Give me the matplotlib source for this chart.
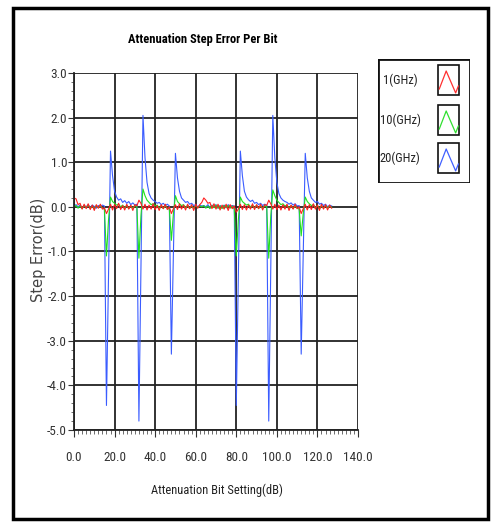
import matplotlib
matplotlib.use("Agg")
import matplotlib.pyplot as plt
from matplotlib.ticker import MultipleLocator, FormatStrFormatter
from matplotlib.patches import Rectangle

NARROW = ['Roboto Condensed', 'Liberation Sans Narrow', 'Liberation Sans', 'DejaVu Sans']

# attenuation setting (dB), one point per dB
atten = list(range(128))

err_20ghz = [0.02, 0.05, 0.0, 0.04, -0.03, 0.03, 0.0, 0.05, -0.02, 0.04, 0.01, -0.03, 0.03, 0.0, 0.04, 0.02,
             -4.45, -1.6, 1.25, 0.7, 0.35, 0.22, 0.15, 0.18, 0.1, 0.14, 0.08, 0.12, 0.05, 0.09, 0.04, 0.06,
             -4.8, -1.4, 2.05, 1.1, 0.55, 0.3, 0.2, 0.15, 0.12, 0.08, 0.1, 0.05, 0.08, 0.03, 0.06, 0.02,
             -3.3, -1.0, 1.2, 0.65, 0.35, 0.2, 0.15, 0.1, 0.12, 0.06, 0.08, 0.03, 0.05, 0.0, 0.04, 0.02,
             0.03, 0.0, 0.05, -0.02, 0.04, 0.01, 0.05, -0.03, 0.03, 0.0, 0.04, -0.02, 0.05, 0.01, 0.03, 0.02,
             -4.45, -1.6, 1.25, 0.7, 0.35, 0.22, 0.16, 0.12, 0.15, 0.08, 0.1, 0.05, 0.08, 0.03, 0.06, 0.04,
             -4.8, -1.4, 2.05, 1.1, 0.55, 0.3, 0.2, 0.15, 0.12, 0.1, 0.06, 0.09, 0.04, 0.07, 0.02, 0.03,
             -3.3, -1.0, 1.2, 0.65, 0.35, 0.2, 0.15, 0.1, 0.12, 0.06, 0.08, 0.03, 0.06, 0.0, 0.04, 0.02]

err_10ghz = [0.0, 0.03, -0.03, 0.02, -0.04, 0.03, -0.02, 0.04, -0.03, 0.02, -0.04, 0.03, -0.02, 0.03, -0.03, -0.05,
             -1.1, -0.3, 0.22, 0.12, 0.08, 0.04, 0.06, 0.0, 0.04, -0.03, 0.03, -0.04, 0.02, -0.03, 0.03, 0.0,
             -1.15, -0.2, 0.4, 0.25, 0.15, 0.1, 0.05, 0.07, 0.02, 0.04, -0.03, 0.03, -0.04, 0.02, -0.03, -0.05,
             -0.75, -0.15, 0.25, 0.12, 0.07, 0.03, 0.05, -0.02, 0.03, -0.04, 0.02, -0.03, 0.03, -0.02, 0.02, 0.0,
             0.03, -0.03, 0.02, -0.04, 0.03, -0.02, 0.04, -0.03, 0.02, -0.04, 0.03, -0.02, 0.03, -0.03, 0.02, -0.05,
             -1.1, -0.3, 0.22, 0.12, 0.08, 0.04, 0.06, 0.0, 0.03, -0.03, 0.04, -0.04, 0.02, -0.03, 0.03, 0.0,
             -1.15, -0.2, 0.38, 0.25, 0.15, 0.1, 0.05, 0.07, 0.02, 0.04, -0.03, 0.03, -0.04, 0.02, -0.03, -0.05,
             -0.65, -0.15, 0.22, 0.12, 0.07, 0.03, 0.05, -0.02, 0.03, -0.04, 0.02, -0.03, 0.03, -0.02, 0.02, -0.01]

err_1ghz = [0.2, 0.18, 0.05, 0.08, -0.05, 0.06, -0.04, 0.07, -0.06, 0.04, -0.08, 0.05, -0.03, 0.06, -0.05, -0.02,
            -0.15, -0.05, 0.06, -0.07, 0.05, -0.04, 0.08, -0.06, 0.03, -0.07, 0.06, -0.05, 0.04, -0.08, 0.05, 0.02,
            0.15, 0.08, -0.05, 0.06, -0.07, 0.04, -0.05, 0.07, -0.06, 0.03, -0.08, 0.05, -0.04, 0.06, -0.06, 0.0,
            -0.15, -0.04, 0.05, -0.06, 0.07, -0.05, 0.04, -0.07, 0.06, -0.04, 0.05, -0.08, 0.06, -0.03, 0.05, 0.1,
            0.2, 0.15, 0.08, 0.1, -0.04, 0.07, -0.05, 0.06, -0.07, 0.04, -0.05, 0.06, -0.08, 0.05, -0.04, 0.02,
            -0.12, -0.05, 0.06, -0.06, 0.05, -0.07, 0.04, -0.05, 0.07, -0.06, 0.05, -0.04, 0.06, -0.07, 0.05, 0.03,
            0.15, 0.07, -0.05, 0.06, -0.06, 0.04, -0.07, 0.05, -0.05, 0.06, -0.08, 0.04, -0.05, 0.06, -0.04, 0.0,
            -0.15, -0.04, 0.06, -0.07, 0.05, -0.06, 0.07, -0.05, 0.04, -0.08, 0.06, -0.05, 0.05, -0.07, 0.04, -0.03]

legend_labels = ['1(GHz)', '10(GHz)', '20(GHz)']
legend_colors = ['#ff3030', '#30e030', '#4060ff']

W, H = 491, 525
fig = plt.figure(figsize=(W / 100, H / 100), dpi=100)

# outer frame
fig.patches.append(Rectangle((13 / W, 1 - 519 / H), 475 / W, 511 / H, transform=fig.transFigure,
                             fill=False, edgecolor='black', linewidth=2.5))

ax = fig.add_axes([74 / W, 1 - 430 / H, 284 / W, 357 / H])
ax.plot(atten, err_20ghz, color='#3a5cff', lw=0.8)
ax.plot(atten, err_10ghz, color='#20e020', lw=0.8)
ax.plot(atten, err_1ghz, color='#ff2020', lw=0.8)

ax.set_xlim(0, 140)
ax.set_ylim(-5, 3)
ax.xaxis.set_major_locator(MultipleLocator(20))
ax.xaxis.set_minor_locator(MultipleLocator(2))
ax.yaxis.set_major_locator(MultipleLocator(1))
ax.yaxis.set_minor_locator(MultipleLocator(0.2))
ax.xaxis.set_major_formatter(FormatStrFormatter('%.1f'))
ax.yaxis.set_major_formatter(FormatStrFormatter('%.1f'))
ax.grid(True, which='major', color='#222222', lw=1.3)
ax.set_axisbelow(True)
for s in ['top', 'right']:
    ax.spines[s].set_visible(False)
for s in ['left', 'bottom']:
    ax.spines[s].set_color('#222222')
    ax.spines[s].set_linewidth(1.3)
ax.tick_params(axis='x', which='major', length=5, pad=10, labelsize=9.5, colors='#333333')
ax.tick_params(axis='x', which='minor', length=3, color='#555555')
ax.tick_params(axis='y', which='major', length=4, pad=1, labelsize=9.5, colors='#333333')
ax.tick_params(axis='y', which='minor', length=2, color='#555555')
for lab in ax.get_xticklabels() + ax.get_yticklabels():
    lab.set_family(NARROW)

fig.text(203 / W, 1 - 39 / H, 'Attenuation Step Error Per Bit', ha='center', va='center',
         fontsize=9, fontweight='bold', family=NARROW)
fig.text(217 / W, 1 - 490 / H, 'Attenuation Bit Setting(dB)', ha='center', va='center',
         fontsize=9, family=NARROW, color='#222222')
fig.text(39 / W, 1 - 250 / H, 'Step Error(dB)', ha='center', va='center', rotation=90,
         fontsize=10.5, color='#444444')

# legend box
lax = fig.add_axes([378 / W, 1 - 183 / H, 92 / W, 124 / H])
lax.set_xlim(0, 92)
lax.set_ylim(124, 0)
lax.axis('off')
lax.add_patch(Rectangle((0, 0), 92, 124, fill=False, edgecolor='#111111', lw=2))
icon_x = [0.06, 0.39, 0.84, 0.97]
icon_y = [0.2, 0.8, 0.07, 0.3]
for i, (lbl, col) in enumerate(zip(legend_labels, legend_colors)):
    cy = [21, 61, 99][i]
    lax.text(22, cy, lbl, ha='center', va='center', fontsize=9, family=NARROW, color='#222222')
    lax.add_patch(Rectangle((60, cy - 15), 21, 30, fill=False, edgecolor='#111111', lw=1.2))
    lax.plot([60 + 21 * u for u in icon_x], [cy + 15 - 30 * v for v in icon_y], color=col, lw=0.9)

fig.savefig('out.png', dpi=100)
